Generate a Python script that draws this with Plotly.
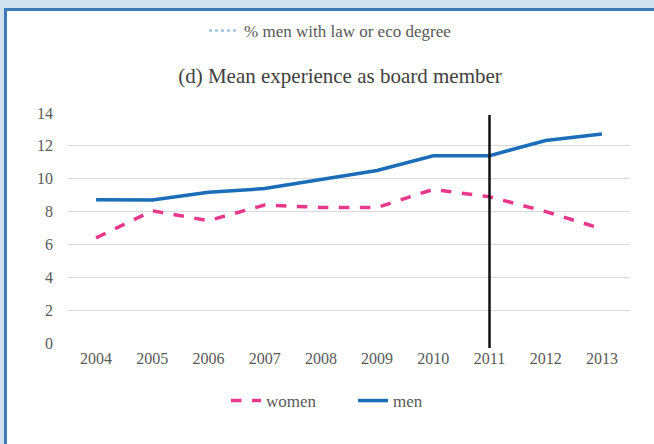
import plotly.graph_objects as go

# Mean experience as board member, by year
years = [2004, 2005, 2006, 2007, 2008, 2009, 2010, 2011, 2012, 2013]
women = [6.4, 8.05, 7.45, 8.4, 8.25, 8.25, 9.35, 8.9, 8.0, 6.95]
men = [8.72, 8.7, 9.17, 9.4, 9.95, 10.5, 11.4, 11.4, 12.33, 12.72]
reform_year = 2011
y_ticks = [0, 2, 4, 6, 8, 10, 12, 14]

W, H = 654, 444
ML, MR, MT, MB = 68, 24, 113, 101

PINK = "#e8388c"
BLUE = "#1b6db8"
LIGHT_BLUE = "#9dc3e6"
FONT = "Liberation Serif"
TXT = "#595959"


def px_x(p):
    return (p - ML) / (W - ML - MR)


def px_y(p):
    return (H - MB - p) / (H - MT - MB)


fig = go.Figure()
fig.add_trace(go.Scatter(
    x=years, y=women, name="women", mode="lines",
    line=dict(color=PINK, width=3.5, dash="dash"), legend="legend",
))
fig.add_trace(go.Scatter(
    x=years, y=men, name="men", mode="lines",
    line=dict(color=BLUE, width=3.5), legend="legend",
))
# series shown only in the upper legend
fig.add_trace(go.Scatter(
    x=[None], y=[None], name="% men with law or eco degree", mode="lines",
    line=dict(color=LIGHT_BLUE, width=2.5, dash="dot"), legend="legend2",
))

shapes = [
    # page frame
    dict(type="rect", xref="paper", yref="paper", x0=px_x(0), x1=px_x(W), y0=px_y(0), y1=px_y(8),
         fillcolor="#cfe1ed", line_width=0, layer="below"),
    dict(type="rect", xref="paper", yref="paper", x0=px_x(0), x1=px_x(4), y0=px_y(0), y1=px_y(H),
         fillcolor="#cfe1ed", line_width=0, layer="below"),
    dict(type="rect", xref="paper", yref="paper", x0=px_x(4), x1=px_x(W), y0=px_y(8), y1=px_y(11),
         fillcolor="#3d7ab8", line_width=0, layer="below"),
    dict(type="rect", xref="paper", yref="paper", x0=px_x(4), x1=px_x(7), y0=px_y(8), y1=px_y(H),
         fillcolor="#3d7ab8", line_width=0, layer="below"),
    # vertical marker at the reform year
    dict(type="line", xref="x", yref="paper", x0=reform_year, x1=reform_year,
         y0=px_y(348), y1=px_y(115), line=dict(color="#111111", width=2.5)),
]

fig.update_layout(
    width=W, height=H,
    margin=dict(l=ML, r=MR, t=MT, b=MB),
    paper_bgcolor="white", plot_bgcolor="white",
    font=dict(family=FONT, size=16, color=TXT),
    title=dict(text="(d) Mean experience as board member", x=px_x(340), xref="paper", xanchor="center",
               y=1 - 76 / H, yanchor="middle", font=dict(family=FONT, size=21, color="#404040")),
    xaxis=dict(range=[2003.5, 2013.5], tickmode="array", tickvals=years, ticktext=[str(y) for y in years],
               showgrid=False, zeroline=False, showline=False, ticks="", ticklen=0,
               ticklabelstandoff=4, tickfont=dict(size=16, color=TXT)),
    yaxis=dict(range=[0, 14], tickmode="array", tickvals=y_ticks, showgrid=True, gridcolor="#d9d9d9",
               gridwidth=1, zeroline=False, showline=False, ticks="", ticklabelstandoff=14,
               tickfont=dict(size=16, color=TXT)),
    legend=dict(orientation="h", x=px_x(226), xanchor="left", y=px_y(401), yanchor="middle",
                font=dict(family=FONT, size=17, color=TXT), bgcolor="rgba(0,0,0,0)",
                entrywidth=82, entrywidthmode="pixels"),
    legend2=dict(orientation="h", x=px_x(330), xanchor="center", y=px_y(31), yanchor="middle",
                 font=dict(family=FONT, size=17, color=TXT), bgcolor="rgba(0,0,0,0)"),
    shapes=shapes,
    showlegend=True,
)

fig.write_html("out.html")
